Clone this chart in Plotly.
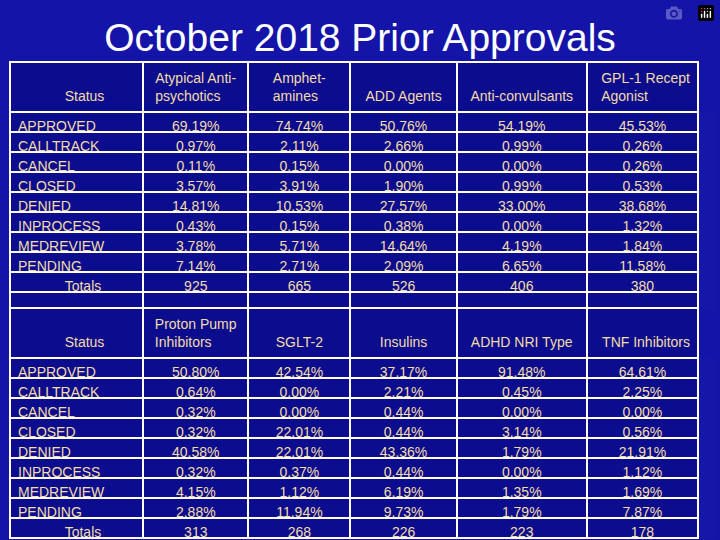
import plotly.graph_objects as go

statuses = ["APPROVED", "CALLTRACK", "CANCEL", "CLOSED", "DENIED", "INPROCESS", "MEDREVIEW", "PENDING"]
top_headers = ["Atypical Anti-<br>psychotics", "Amphet-<br>amines", "\u00a0<br>ADD Agents", "\u00a0<br>Anti-convulsants", "GPL-1 Recept<br>Agonist"]
top_values = [
    [69.19, 0.97, 0.11, 3.57, 14.81, 0.43, 3.78, 7.14],
    [74.74, 2.11, 0.15, 3.91, 10.53, 0.15, 5.71, 2.71],
    [50.76, 2.66, 0.00, 1.90, 27.57, 0.38, 14.64, 2.09],
    [54.19, 0.99, 0.00, 0.99, 33.00, 0.00, 4.19, 6.65],
    [45.53, 0.26, 0.26, 0.53, 38.68, 1.32, 1.84, 11.58],
]
top_totals = [925, 665, 526, 406, 380]
bot_headers = ["Proton Pump<br>Inhibitors", "\u00a0<br>SGLT-2", "\u00a0<br>Insulins", "\u00a0<br>ADHD NRI Type", "\u00a0<br>TNF Inhibitors"]
bot_values = [
    [50.80, 0.64, 0.32, 0.32, 40.58, 0.32, 4.15, 2.88],
    [42.54, 0.00, 0.00, 22.01, 22.01, 0.37, 1.12, 11.94],
    [37.17, 2.21, 0.44, 0.44, 43.36, 0.44, 6.19, 9.73],
    [91.48, 0.45, 0.00, 3.14, 1.79, 0.00, 1.35, 1.79],
    [64.61, 2.25, 0.00, 0.56, 21.91, 1.12, 1.69, 7.87],
]
bot_totals = [313, 268, 226, 223, 178]

TXT = "#f2dca6"
CELL = "#0c0c8e"
NB = "\u00a0"

def build(headers, values, totals, blank):
    cols = [statuses + [NB * 12 + "Totals"] + ([NB] if blank else [])]
    for v, t in zip(values, totals):
        cols.append([f"{x:.2f}%" for x in v] + [str(t)] + ([NB] if blank else []))
    hdr = [NB + "<br>" + NB * 12 + "Status"] + headers
    return hdr, cols

fig = go.Figure()
W = [133, 105, 102, 106, 130, 111]
for (hdr, cols), ydom in [
    (build(top_headers, top_values, top_totals, True), [1 - 310 / 540, 1 - 62 / 540]),
    (build(bot_headers, bot_values, bot_totals, False), [0.0, 1 - 308 / 540]),
]:
    fig.add_trace(go.Table(
        domain=dict(x=[10 / 720, 698 / 720], y=ydom),
        columnwidth=W,
        header=dict(values=hdr, height=22, fill_color=CELL,
                    line=dict(color="white", width=2),
                    align=["left", "center", "center", "center", "center", "right"],
                    font=dict(family="Liberation Sans", size=14, color=TXT)),
        cells=dict(values=cols, height=20, fill_color=CELL,
                   line=dict(color="white", width=2),
                   align=["left"] + ["center"] * 5,
                   font=dict(family="Liberation Sans", size=14, color=TXT)),
    ))

fig.update_layout(
    width=720, height=540, margin=dict(l=0, r=0, t=0, b=0),
    paper_bgcolor="#1414a8",
    title=dict(text="October 2018 Prior Approvals", x=0.5, xanchor="center",
               y=0.93, yanchor="middle",
               font=dict(family="Liberation Sans", size=39, color="white")),
)
fig.write_html("out.html", post_script="document.body.style.margin='0';document.body.style.background='#1414a8';")
